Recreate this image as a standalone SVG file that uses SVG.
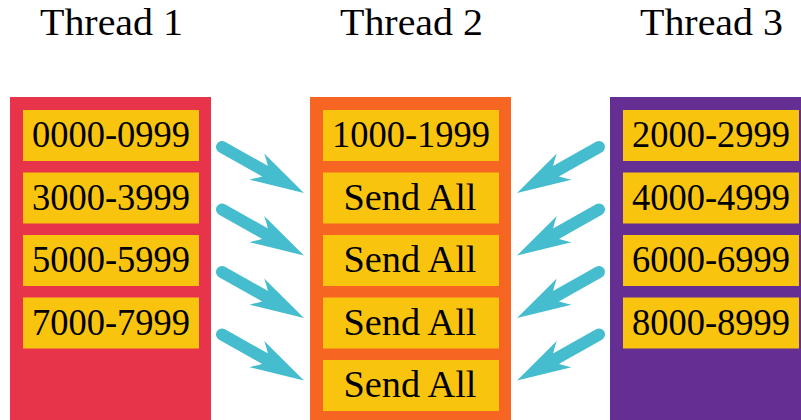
<svg xmlns="http://www.w3.org/2000/svg" xmlns:xlink="http://www.w3.org/1999/xlink" width="801" height="420" viewBox="0 0 801 420">
<style>
.t{font-family:"Liberation Serif","Times New Roman",serif;font-size:37px;fill:#000;text-anchor:middle}
.box{fill:#F9C40E}
.arrline{stroke:#45BDCE;stroke-width:12;stroke-linecap:round;fill:none}
.arrhead{fill:#45BDCE}
</style>
<defs>
<g id="arr">
<line class="arrline" x1="0" y1="0" x2="54" y2="0"/>
<path class="arrhead" d="M94,0 L40,-15 Q50,-6 54,0 Q50,6 40,15 Z"/>
</g>
</defs>
<rect width="801" height="420" fill="#fff"/>
<g id="titles">
<text class="t" x="111.5" y="35" textLength="143" lengthAdjust="spacingAndGlyphs">Thread 1</text>
<text class="t" x="411.5" y="35" textLength="143" lengthAdjust="spacingAndGlyphs">Thread 2</text>
<text class="t" x="711.5" y="35" textLength="143" lengthAdjust="spacingAndGlyphs">Thread 3</text>
</g>
<g id="thread1">
<rect x="10" y="97" width="201" height="323" fill="#E8344A"/>
<g id="t1b1"><rect class="box" x="23" y="110" width="176" height="51"/><text class="t" x="111" y="147" textLength="158" lengthAdjust="spacingAndGlyphs">0000-0999</text></g>
<g id="t1b2"><rect class="box" x="23" y="172.5" width="176" height="51"/><text class="t" x="111" y="209.5" textLength="158" lengthAdjust="spacingAndGlyphs">3000-3999</text></g>
<g id="t1b3"><rect class="box" x="23" y="235" width="176" height="51"/><text class="t" x="111" y="272" textLength="158" lengthAdjust="spacingAndGlyphs">5000-5999</text></g>
<g id="t1b4"><rect class="box" x="23" y="297.5" width="176" height="51"/><text class="t" x="111" y="334.5" textLength="158" lengthAdjust="spacingAndGlyphs">7000-7999</text></g>
</g>
<g id="thread2">
<rect x="310" y="97" width="201" height="323" fill="#F76522"/>
<g id="t2b1"><rect class="box" x="323" y="110" width="176" height="51"/><text class="t" x="411" y="147" textLength="158" lengthAdjust="spacingAndGlyphs">1000-1999</text></g>
<g id="t2b2"><rect class="box" x="323" y="172.5" width="176" height="51"/><text class="t" x="410" y="209.5" textLength="133" lengthAdjust="spacingAndGlyphs">Send All</text></g>
<g id="t2b3"><rect class="box" x="323" y="235" width="176" height="51"/><text class="t" x="410" y="272" textLength="133" lengthAdjust="spacingAndGlyphs">Send All</text></g>
<g id="t2b4"><rect class="box" x="323" y="297.5" width="176" height="51"/><text class="t" x="410" y="334.5" textLength="133" lengthAdjust="spacingAndGlyphs">Send All</text></g>
<g id="t2b5"><rect class="box" x="323" y="360" width="176" height="51"/><text class="t" x="410" y="397" textLength="133" lengthAdjust="spacingAndGlyphs">Send All</text></g>
</g>
<g id="thread3">
<rect x="610" y="97" width="191" height="323" fill="#652E93"/>
<g id="t3b1"><rect class="box" x="623" y="110" width="176" height="51"/><text class="t" x="711" y="147" textLength="158" lengthAdjust="spacingAndGlyphs">2000-2999</text></g>
<g id="t3b2"><rect class="box" x="623" y="172.5" width="176" height="51"/><text class="t" x="711" y="209.5" textLength="158" lengthAdjust="spacingAndGlyphs">4000-4999</text></g>
<g id="t3b3"><rect class="box" x="623" y="235" width="176" height="51"/><text class="t" x="711" y="272" textLength="158" lengthAdjust="spacingAndGlyphs">6000-6999</text></g>
<g id="t3b4"><rect class="box" x="623" y="297.5" width="176" height="51"/><text class="t" x="711" y="334.5" textLength="158" lengthAdjust="spacingAndGlyphs">8000-8999</text></g>
</g>
<g id="connectors">
<use xlink:href="#arr" transform="translate(222,147) rotate(29.3)"/>
<use xlink:href="#arr" transform="translate(222,209.5) rotate(29.3)"/>
<use xlink:href="#arr" transform="translate(222,272) rotate(29.3)"/>
<use xlink:href="#arr" transform="translate(222,334.5) rotate(29.3)"/>
<use xlink:href="#arr" transform="translate(599,147) scale(-1,1) rotate(29.3)"/>
<use xlink:href="#arr" transform="translate(599,209.5) scale(-1,1) rotate(29.3)"/>
<use xlink:href="#arr" transform="translate(599,272) scale(-1,1) rotate(29.3)"/>
<use xlink:href="#arr" transform="translate(599,334.5) scale(-1,1) rotate(29.3)"/>
</g>
</svg>
